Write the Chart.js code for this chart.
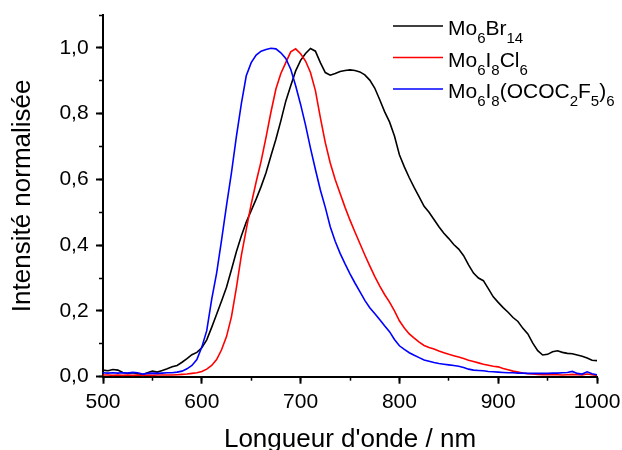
<!DOCTYPE html>
<html lang="fr">
<head>
  <meta charset="UTF-8">
  <title>Spectres d'émission normalisés</title>
  <script src="https://cdn.jsdelivr.net/npm/chart.js"></script>
  <style>
    body, html {
      margin: 0;
      padding: 0;
      background: #fff;
    }
    canvas { display: block; }
  </style>
</head>
<body>
  <canvas id="spectres" width="622" height="450"></canvas>
  <script>
    // longueurs d'onde (nm), pas de 5 nm
    const longueurs = [
      500, 505, 510, 515, 520, 525, 530, 535, 540, 545,
      550, 555, 560, 565, 570, 575, 580, 585, 590, 595,
      600, 605, 610, 615, 620, 625, 630, 635, 640, 645,
      650, 655, 660, 665, 670, 675, 680, 685, 690, 695,
      700, 705, 710, 715, 720, 725, 730, 735, 740, 745,
      750, 755, 760, 765, 770, 775, 780, 785, 790, 795,
      800, 805, 810, 815, 820, 825, 830, 835, 840, 845,
      850, 855, 860, 865, 870, 875, 880, 885, 890, 895,
      900, 905, 910, 915, 920, 925, 930, 935, 940, 945,
      950, 955, 960, 965, 970, 975, 980, 985, 990, 995,
      1000
    ];

    const mo6br14 = [
      0.020, 0.018, 0.022, 0.020, 0.013, 0.010, 0.012, 0.009, 0.006, 0.012,
      0.017, 0.014, 0.019, 0.024, 0.030, 0.034, 0.044, 0.055, 0.067, 0.074,
      0.088, 0.112, 0.150, 0.190, 0.230, 0.272, 0.325, 0.380, 0.428, 0.470,
      0.505, 0.540, 0.578, 0.620, 0.672, 0.722, 0.778, 0.838, 0.885, 0.930,
      0.962, 0.983, 0.998, 0.990, 0.955, 0.925, 0.917, 0.922, 0.928, 0.931,
      0.933, 0.931, 0.927, 0.918, 0.902, 0.878, 0.843, 0.806, 0.775, 0.732,
      0.675, 0.638, 0.605, 0.575, 0.547, 0.518, 0.500, 0.478, 0.456, 0.436,
      0.420, 0.402, 0.388, 0.368, 0.340, 0.315, 0.300, 0.292, 0.268, 0.243,
      0.226, 0.210, 0.196, 0.180, 0.168, 0.147, 0.130, 0.102, 0.079, 0.066,
      0.068, 0.076, 0.079, 0.074, 0.071, 0.070, 0.066, 0.062, 0.057, 0.050,
      0.049
    ];

    const mo6i8cl6 = [
      0.005, 0.005, 0.004, 0.005, 0.004, 0.005, 0.004, 0.005, 0.004, 0.005,
      0.004, 0.005, 0.005, 0.005, 0.005, 0.006, 0.007, 0.008, 0.010, 0.012,
      0.016, 0.023, 0.034, 0.052, 0.082, 0.122, 0.182, 0.270, 0.368, 0.448,
      0.525, 0.592, 0.655, 0.728, 0.805, 0.875, 0.922, 0.955, 0.988, 0.997,
      0.982, 0.960, 0.925, 0.870, 0.788, 0.712, 0.650, 0.600, 0.557, 0.515,
      0.476, 0.440, 0.405, 0.370, 0.337, 0.305, 0.276, 0.250, 0.227, 0.200,
      0.170, 0.148, 0.130, 0.117, 0.105, 0.095, 0.089, 0.084, 0.078, 0.073,
      0.068, 0.064, 0.060, 0.055, 0.050, 0.046, 0.042, 0.038, 0.035, 0.032,
      0.030, 0.025, 0.021, 0.017, 0.014, 0.011, 0.009, 0.008, 0.007, 0.006,
      0.006, 0.006, 0.006, 0.005, 0.006, 0.007, 0.006, 0.005, 0.008, 0.006,
      0.004
    ];

    const mo6i8pfp = [
      0.012, 0.011, 0.012, 0.011, 0.012, 0.011, 0.013, 0.012, 0.008, 0.010,
      0.011, 0.010, 0.011, 0.012, 0.012, 0.014, 0.017, 0.024, 0.034, 0.052,
      0.090, 0.140, 0.235, 0.315, 0.415, 0.520, 0.620, 0.730, 0.830, 0.915,
      0.955, 0.978, 0.990, 0.995, 0.999, 0.997, 0.985, 0.968, 0.935, 0.885,
      0.828, 0.765, 0.695, 0.630, 0.568, 0.515, 0.456, 0.412, 0.375, 0.343,
      0.313, 0.285, 0.259, 0.232, 0.210, 0.192, 0.174, 0.155, 0.137, 0.113,
      0.094, 0.083, 0.073, 0.065, 0.058, 0.051, 0.047, 0.043, 0.040, 0.038,
      0.036, 0.034, 0.032, 0.028, 0.023, 0.020, 0.019, 0.018, 0.016, 0.015,
      0.014, 0.013, 0.012, 0.012, 0.011, 0.011, 0.010, 0.010, 0.010, 0.010,
      0.010, 0.011, 0.011, 0.012, 0.013, 0.016, 0.010, 0.008, 0.015, 0.009,
      0.006
    ];

    const couleurs = ["#000000", "#ff0000", "#0000ff"];

    // légende : morceaux [texte, indice ?]
    const legende = [
      [["Mo", 0], ["6", 1], ["Br", 0], ["14", 1]],
      [["Mo", 0], ["6", 1], ["I", 0], ["8", 1], ["Cl", 0], ["6", 1]],
      [["Mo", 0], ["6", 1], ["I", 0], ["8", 1], ["(OCOC", 0], ["2", 1], ["F", 0], ["5", 1], [")", 0], ["6", 1]]
    ];

    const POLICE = "'Liberation Sans', Arial, sans-serif";

    const points = ys => longueurs.map((x, i) => ({ x, y: ys[i] }));

    // pas de marge automatique autour des axes : la zone de tracé est fixée par layout.padding
    const sansMarge = s => {
      s.paddingTop = 0; s.paddingBottom = 0;
      s.paddingLeft = 0; s.paddingRight = 0;
    };

    const legendePlugin = {
      id: "legendeIndices",
      afterDraw(chart) {
        const c = chart.ctx;
        const x0 = 393, y0 = 26, pas = 31.5;
        c.save();
        c.textBaseline = "alphabetic";
        c.textAlign = "left";
        legende.forEach((morceaux, i) => {
          const y = y0 + i * pas;
          c.strokeStyle = couleurs[i];
          c.lineWidth = 1.6;
          c.beginPath();
          c.moveTo(x0, y);
          c.lineTo(x0 + 50, y);
          c.stroke();
          let x = x0 + 55;
          c.fillStyle = "#000";
          morceaux.forEach(([txt, sub]) => {
            c.font = (sub ? "15px " : "21px ") + POLICE;
            c.fillText(txt, x, sub ? y + 17 : y + 9);
            x += c.measureText(txt).width;
          });
        });
        c.restore();
      }
    };

    const ctx = document.getElementById("spectres").getContext("2d");

    new Chart(ctx, {
      type: "line",
      data: {
        datasets: [
          { label: "Mo6Br14", data: points(mo6br14), borderColor: couleurs[0], order: 2 },
          { label: "Mo6I8Cl6", data: points(mo6i8cl6), borderColor: couleurs[1], order: 1 },
          { label: "Mo6I8(OCOC2F5)6", data: points(mo6i8pfp), borderColor: couleurs[2], order: 0 }
        ]
      },
      options: {
        responsive: false,
        animation: false,
        devicePixelRatio: 1,
        layout: { padding: { left: 0, right: 25, top: 15, bottom: 0 } },
        elements: {
          point: { radius: 0 },
          line: { borderWidth: 1.6, tension: 0, fill: false }
        },
        plugins: {
          legend: { display: false },
          tooltip: { enabled: false }
        },
        scales: {
          x: {
            type: "linear",
            weight: 1,
            min: 500,
            max: 1000,
            afterFit: s => { s.height = 73.3; sansMarge(s); },
            grid: { drawOnChartArea: false, tickLength: 7, tickWidth: 2, tickColor: "#000" },
            border: { color: "#000", width: 2 },
            ticks: {
              stepSize: 100,
              padding: 5.5,
              color: "#000",
              font: { family: POLICE, size: 21 },
              maxRotation: 0,
              callback: v => String(v)
            },
            title: {
              display: true,
              text: "Longueur d'onde / nm",
              color: "#000",
              padding: 0,
              font: { family: POLICE, size: 26, lineHeight: 0.77 }
            }
          },
          xm: {
            type: "linear",
            axis: "x",
            position: "bottom",
            weight: 0,
            min: 500,
            max: 1000,
            afterFit: s => { s.height = 0; sansMarge(s); },
            grid: { drawOnChartArea: false, tickLength: 4, tickWidth: 1.5, tickColor: "#000" },
            border: { display: false },
            ticks: { stepSize: 50, display: false }
          },
          y: {
            type: "linear",
            weight: 1,
            min: 0,
            max: 1.1,
            afterFit: s => { s.width = 103; sansMarge(s); },
            grid: { drawOnChartArea: false, tickLength: 7, tickWidth: 2, tickColor: "#000" },
            border: { color: "#000", width: 2 },
            ticks: {
              stepSize: 0.2,
              includeBounds: false,
              padding: 7.4,
              color: "#000",
              font: { family: POLICE, size: 21 },
              callback: v => v.toFixed(1).replace(".", ",")
            },
            title: {
              display: true,
              text: "Intensité normalisée",
              color: "#000",
              padding: { top: 7, bottom: 0 },
              font: { family: POLICE, size: 26 }
            }
          },
          ym: {
            type: "linear",
            axis: "y",
            position: "left",
            weight: 0,
            min: 0,
            max: 1.1,
            afterFit: s => { s.width = 0; sansMarge(s); },
            grid: { drawOnChartArea: false, tickLength: 4, tickWidth: 1.5, tickColor: "#000" },
            border: { display: false },
            ticks: { stepSize: 0.1, includeBounds: false, display: false }
          }
        }
      },
      plugins: [legendePlugin]
    });
  </script>
</body>
</html>
